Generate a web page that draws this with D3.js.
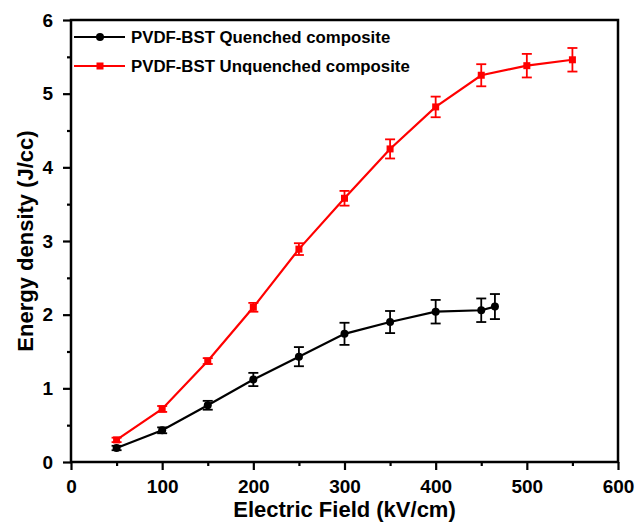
<!DOCTYPE html>
<html>
<head>
<meta charset="utf-8">
<script src="https://cdn.jsdelivr.net/npm/d3@7/dist/d3.min.js"></script>
<style>
  html, body { margin: 0; padding: 0; background: #fff; }
  svg { display: block; }
  text { font-family: "Liberation Sans", Arial, sans-serif; font-weight: bold; }
</style>
</head>
<body>
<svg id="chart" width="644" height="524"></svg>
<script>
// ---- Data ----
const seriesNames = ["PVDF-BST Quenched composite", "PVDF-BST Unquenched composite"];
const quenchedField = [50, 100, 150, 200, 250, 300, 350, 400, 450, 465];
const quenchedEnergy = [0.19, 0.43, 0.77, 1.12, 1.43, 1.74, 1.90, 2.04, 2.06, 2.11];
const quenchedError = [0.03, 0.04, 0.06, 0.09, 0.13, 0.15, 0.15, 0.16, 0.16, 0.17];
const unquenchedField = [50, 100, 150, 200, 250, 300, 350, 400, 450, 500, 550];
const unquenchedEnergy = [0.30, 0.72, 1.37, 2.10, 2.89, 3.58, 4.25, 4.82, 5.25, 5.38, 5.46];
const unquenchedError = [0.03, 0.04, 0.04, 0.06, 0.08, 0.10, 0.13, 0.14, 0.15, 0.16, 0.16];
const xTicks = [0, 100, 200, 300, 400, 500, 600];
const xMinorTicks = [50, 150, 250, 350, 450, 550];
const yTicks = [0, 1, 2, 3, 4, 5, 6];
const yMinorTicks = [0.5, 1.5, 2.5, 3.5, 4.5, 5.5];
const xTitle = "Electric Field (kV/cm)";
const yTitle = "Energy density (J/cc)";

// ---- Layout ----
const svg = d3.select("#chart");
const m = { left: 71, right: 26, top: 20, bottom: 62 };
const W = 644, H = 524;
const x = d3.scaleLinear().domain([0, 600]).range([m.left, W - m.right]);
const y = d3.scaleLinear().domain([0, 6]).range([H - m.bottom, m.top]);

const series = [
  { name: seriesNames[0], color: "#000000", shape: "circle",
    data: quenchedField.map((f, i) => ({ x: f, y: quenchedEnergy[i], e: quenchedError[i] })) },
  { name: seriesNames[1], color: "#ff0000", shape: "square",
    data: unquenchedField.map((f, i) => ({ x: f, y: unquenchedEnergy[i], e: unquenchedError[i] })) }
];

// Axes
const fmt = d3.format("d");
const xAxis = svg.append("g").attr("transform", `translate(0,${y(0)})`)
  .call(d3.axisBottom(x).tickValues(xTicks).tickFormat(fmt).tickSize(8).tickSizeOuter(0).tickPadding(10));
const xMinor = svg.append("g").attr("transform", `translate(0,${y(0)})`)
  .call(d3.axisBottom(x).tickValues(xMinorTicks).tickSize(4).tickSizeOuter(0).tickFormat(""));
const yAxis = svg.append("g").attr("transform", `translate(${x(0)},0)`)
  .call(d3.axisLeft(y).tickValues(yTicks).tickFormat(fmt).tickSize(8).tickSizeOuter(0).tickPadding(10));
const yMinor = svg.append("g").attr("transform", `translate(${x(0)},0)`)
  .call(d3.axisLeft(y).tickValues(yMinorTicks).tickSize(4).tickSizeOuter(0).tickFormat(""));

[xAxis, xMinor, yAxis, yMinor].forEach(g => {
  g.select(".domain").remove();
  g.selectAll(".tick line").attr("stroke", "#000").attr("stroke-width", 2.2);
  g.selectAll(".tick text").attr("fill", "#000").style("font-size", "19px")
    .style("font-family", '"Liberation Sans", Arial, sans-serif').style("font-weight", "bold");
});

// Frame
svg.append("rect")
  .attr("x", x(0)).attr("y", y(6))
  .attr("width", x(600) - x(0)).attr("height", y(0) - y(6))
  .attr("fill", "none").attr("stroke", "#000").attr("stroke-width", 2.5);

// Titles
svg.append("text").attr("x", (x(0) + x(600)) / 2).attr("y", 517)
  .attr("text-anchor", "middle").style("font-size", "22px").text(xTitle);
svg.append("text")
  .attr("transform", `translate(33,${(y(0) + y(6)) / 2}) rotate(-90)`)
  .attr("text-anchor", "middle").style("font-size", "22px").text(yTitle);

// Series
const line = d3.line().x(d => x(d.x)).y(d => y(d.y));
series.forEach(s => {
  const g = svg.append("g");
  g.append("path").datum(s.data).attr("d", line)
    .attr("fill", "none").attr("stroke", s.color).attr("stroke-width", 2.2);
  const eb = g.selectAll(".eb").data(s.data).enter().append("g");
  eb.append("line").attr("x1", d => x(d.x)).attr("x2", d => x(d.x))
    .attr("y1", d => y(d.y - d.e)).attr("y2", d => y(d.y + d.e));
  eb.append("line").attr("x1", d => x(d.x) - 5).attr("x2", d => x(d.x) + 5)
    .attr("y1", d => y(d.y - d.e)).attr("y2", d => y(d.y - d.e));
  eb.append("line").attr("x1", d => x(d.x) - 5).attr("x2", d => x(d.x) + 5)
    .attr("y1", d => y(d.y + d.e)).attr("y2", d => y(d.y + d.e));
  eb.selectAll("line").attr("stroke", s.color).attr("stroke-width", 1.8);
  if (s.shape === "circle") {
    g.selectAll(".pt").data(s.data).enter().append("circle")
      .attr("cx", d => x(d.x)).attr("cy", d => y(d.y)).attr("r", 4).attr("fill", s.color);
  } else {
    g.selectAll(".pt").data(s.data).enter().append("rect")
      .attr("x", d => x(d.x) - 3.5).attr("y", d => y(d.y) - 3.5)
      .attr("width", 7).attr("height", 7).attr("fill", s.color);
  }
});

// Legend
series.forEach((s, i) => {
  const ly = 37 + i * 29;
  const g = svg.append("g");
  g.append("line").attr("x1", 74).attr("x2", 125).attr("y1", ly).attr("y2", ly)
    .attr("stroke", s.color).attr("stroke-width", 2.2);
  if (s.shape === "circle") {
    g.append("circle").attr("cx", 100).attr("cy", ly).attr("r", 4).attr("fill", s.color);
  } else {
    g.append("rect").attr("x", 96.5).attr("y", ly - 3.5).attr("width", 7).attr("height", 7).attr("fill", s.color);
  }
  g.append("text").attr("x", 131).attr("y", ly + 6).style("font-size", "16.8px").attr("fill", "#000").text(s.name);
});
</script>
</body>
</html>
